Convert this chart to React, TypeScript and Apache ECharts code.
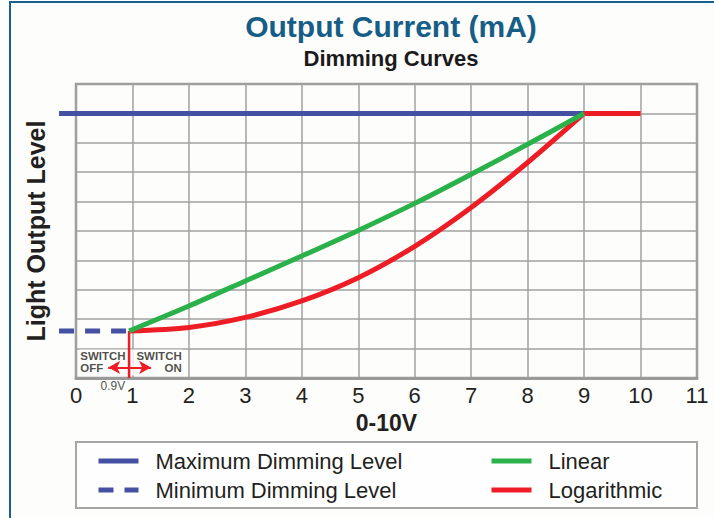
import React, { useEffect, useRef } from "react";
import * as echarts from "echarts";

const FONT = "'Liberation Sans', Arial, Helvetica, sans-serif";

const xTicks = [0, 1, 2, 3, 4, 5, 6, 7, 8, 9, 10, 11];
const maxLevel: [number, number][] = [[-0.3, 9], [9, 9]];
const minLevel: [number, number][] = [[-0.3, 1.6], [0.94, 1.6]];
const linearCurve: [number, number][] = [
  [0.94, 1.6], [2, 2.45], [3, 3.3], [4, 4.15], [5, 5.02], [6, 5.94], [7, 6.93], [8, 7.95], [9, 9],
];
const logCurve: [number, number][] = [
  [0.94, 1.6], [2, 1.72], [3, 2.06], [4, 2.62], [5, 3.41], [6, 4.48], [7, 5.8], [8, 7.33], [9, 9],
];
const logFlat: [number, number][] = [[9, 9], [10, 9]];
const switchLine: [number, number][] = [[0.94, 1.6], [0.94, 0]];
const arrowFrom: [number, number] = [0.57, 0.36];
const arrowTo: [number, number] = [1.33, 0.36];
const switchOff: [number, number] = [0.05, 0.53];
const switchOn: [number, number] = [1.9, 0.53];
const voltLabel: [number, number] = [0.88, -0.27];

const BLUE = "#4450a2";
const GREEN = "#2bb14a";
const RED = "#ee1c25";

// main plot geometry (pixels) and the extended axis that starts left of 0
const GRID_LEFT = 76;
const GRID_RIGHT = 17;
const X_MIN_EXT = -0.3;
const X_MAX = 11;

export default function App() {
  const ref = useRef<HTMLDivElement>(null);
  useEffect(() => {
    document.body.style.margin = "0";
    const chart = echarts.init(ref.current!, null, { renderer: "svg" });
    const plotW = 714 - GRID_LEFT - GRID_RIGHT;
    const perUnit = plotW / X_MAX;
    const extLeft = GRID_LEFT + X_MIN_EXT * perUnit;

    const legendText = {
      fontSize: 22,
      color: "#231f20",
      lineHeight: 24,
      padding: [0, 0, 0, 12],
      fontFamily: FONT,
    };

    chart.setOption({
      animation: false,
      backgroundColor: "#ffffff",
      textStyle: { fontFamily: FONT },
      title: {
        text: "Output Current (mA)",
        subtext: "Dimming Curves",
        left: 386,
        textAlign: "center",
        top: 6,
        itemGap: 6,
        textStyle: { fontSize: 30, fontWeight: "bold", color: "#175e87", fontFamily: FONT },
        subtextStyle: { fontSize: 22, fontWeight: "bold", color: "#1a1a1a", fontFamily: FONT },
      },
      graphic: [
        {
          type: "rect",
          z: -100,
          shape: { x: 10, y: 2, width: 720, height: 530 },
          style: { fill: "#fdfdfb", stroke: "#1a5f8e", lineWidth: 2 },
        },
        {
          type: "rect",
          z: -50,
          shape: { x: 76, y: 442, width: 621, height: 66 },
          style: { fill: "#fefefe", stroke: "#a6a6a6", lineWidth: 2 },
        },
      ],
      legend: [
        {
          data: ["Maximum Dimming Level", "Minimum Dimming Level"],
          orient: "vertical",
          left: 96,
          top: 449,
          padding: 0,
          itemWidth: 40,
          itemHeight: 10,
          itemGap: 5,
          itemStyle: { opacity: 0 },
          lineStyle: { width: 5 },
          textStyle: legendText,
        },
        {
          data: ["Linear", "Logarithmic"],
          orient: "vertical",
          left: 489,
          top: 449,
          padding: 0,
          itemWidth: 40,
          itemHeight: 10,
          itemGap: 5,
          itemStyle: { opacity: 0 },
          lineStyle: { width: 5 },
          textStyle: legendText,
        },
      ],
      grid: [
        {
          left: GRID_LEFT,
          right: GRID_RIGHT,
          top: 84,
          bottom: 140,
          show: true,
          borderColor: "#9a9a9a",
          borderWidth: 2.5,
          containLabel: false,
        },
        {
          left: extLeft,
          right: GRID_RIGHT,
          top: 84,
          bottom: 140,
          show: false,
          containLabel: false,
        },
      ],
      xAxis: [
        {
          type: "value",
          gridIndex: 0,
          min: 0,
          max: X_MAX,
          interval: 1,
          name: "0-10V",
          nameLocation: "middle",
          nameGap: 33,
          nameTextStyle: { fontSize: 23, fontWeight: "bold", color: "#231f20", fontFamily: FONT },
          axisLine: { show: true, lineStyle: { color: "#9a9a9a", width: 3 } },
          axisTick: { show: false },
          axisLabel: {
            fontSize: 22,
            color: "#231f20",
            margin: 6,
            fontFamily: FONT,
            formatter: (v: number) => (xTicks.includes(v) ? String(v) : ""),
          },
          splitLine: { show: true, lineStyle: { color: "#a0a0a0", width: 1.5 } },
        },
        {
          type: "value",
          gridIndex: 1,
          min: X_MIN_EXT,
          max: X_MAX,
          show: false,
          splitLine: { show: false },
        },
      ],
      yAxis: [
        {
          type: "value",
          gridIndex: 0,
          min: 0,
          max: 10,
          interval: 1,
          name: "Light Output Level",
          nameLocation: "middle",
          nameGap: 28,
          nameTextStyle: { fontSize: 25, fontWeight: "bold", color: "#231f20", fontFamily: FONT },
          axisLine: { show: false },
          axisTick: { show: false },
          axisLabel: { show: false },
          splitLine: { show: true, lineStyle: { color: "#a0a0a0", width: 1.5 } },
        },
        {
          type: "value",
          gridIndex: 1,
          min: 0,
          max: 10,
          show: false,
          splitLine: { show: false },
        },
      ],
      series: [
        {
          name: "Maximum Dimming Level",
          type: "line",
          xAxisIndex: 1,
          yAxisIndex: 1,
          data: maxLevel,
          symbol: "none",
          z: 3,
          color: BLUE,
          lineStyle: { color: BLUE, width: 5 },
        },
        {
          name: "Minimum Dimming Level",
          type: "line",
          xAxisIndex: 1,
          yAxisIndex: 1,
          data: minLevel,
          symbol: "none",
          z: 3,
          color: BLUE,
          lineStyle: { color: BLUE, width: 5, type: [15, 11] },
        },
        {
          name: "switch",
          type: "line",
          data: switchLine,
          symbol: "none",
          clip: false,
          z: 3,
          color: RED,
          lineStyle: { color: RED, width: 2.5 },
          markLine: {
            silent: true,
            symbol: ["arrow", "arrow"],
            symbolSize: [10, 12],
            label: { show: false },
            lineStyle: { color: RED, width: 2, type: "solid" },
            data: [[{ coord: arrowFrom }, { coord: arrowTo }]],
          },
        },
        {
          name: "Logarithmic",
          type: "line",
          data: logCurve,
          smooth: 0.3,
          symbol: "none",
          z: 4,
          color: RED,
          lineStyle: { color: RED, width: 5 },
        },
        {
          name: "Logarithmic",
          type: "line",
          data: logFlat,
          symbol: "none",
          z: 4,
          color: RED,
          lineStyle: { color: RED, width: 5 },
        },
        {
          name: "Linear",
          type: "line",
          data: linearCurve,
          smooth: 0.3,
          symbol: "none",
          z: 5,
          color: GREEN,
          lineStyle: { color: GREEN, width: 5 },
        },
        {
          name: "labels",
          type: "scatter",
          z: 1,
          clip: false,
          silent: true,
          symbolSize: 1,
          itemStyle: { color: "rgba(0,0,0,0)" },
          data: [
            {
              value: switchOff,
              label: {
                show: true,
                position: "right",
                distance: 0,
                formatter: "SWITCH\nOFF",
                align: "left",
                fontSize: 11.5,
                lineHeight: 12,
                fontWeight: "bold",
                color: "#231f20",
                backgroundColor: "#fdfdfb",
                padding: [1, 2, 1, 1],
                fontFamily: FONT,
              },
            },
            {
              value: switchOn,
              label: {
                show: true,
                position: "left",
                distance: 0,
                formatter: "SWITCH\n{r|ON}",
                align: "right",
                fontSize: 11.5,
                lineHeight: 12,
                fontWeight: "bold",
                color: "#231f20",
                backgroundColor: "#fdfdfb",
                padding: [1, 1, 1, 8],
                fontFamily: FONT,
                rich: {
                  r: { fontSize: 11.5, fontWeight: "bold", color: "#231f20", align: "right", fontFamily: FONT },
                },
              },
            },
            {
              value: voltLabel,
              label: {
                show: true,
                position: "left",
                distance: 0,
                formatter: "0.9V",
                fontSize: 12,
                color: "#231f20",
                fontFamily: FONT,
              },
            },
          ],
        },
      ],
    });
    return () => chart.dispose();
  }, []);
  return (
    <div
      ref={ref}
      style={{ position: "absolute", left: 0, top: 0, width: 714, height: 518 }}
    />
  );
}
